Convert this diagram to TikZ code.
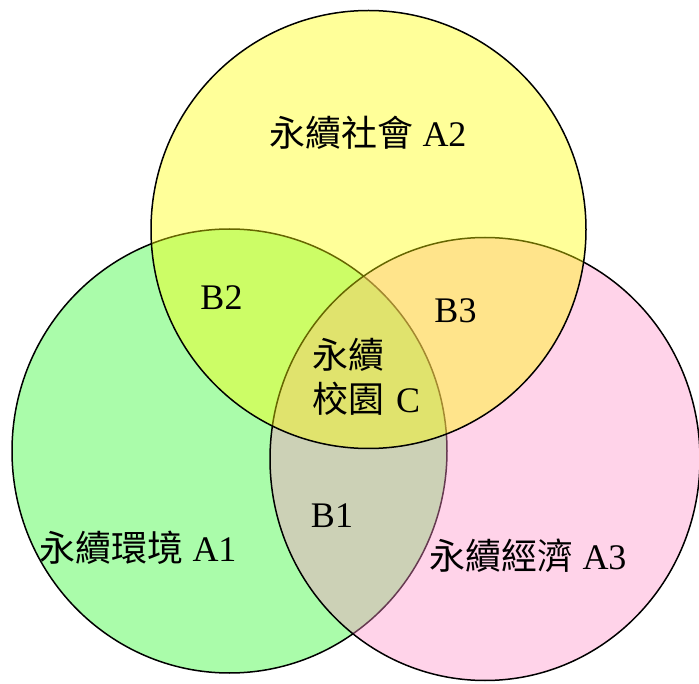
\documentclass[tikz,border=0pt]{standalone}
\usepackage{fontspec}
\setmainfont{Liberation Serif}
\newfontfamily\cjk{Noto Sans CJK TC}
\definecolor{gbase}{RGB}{0,246,0}
\definecolor{pbase}{RGB}{255,145,202}
\definecolor{ybase}{RGB}{255,255,0}
\tikzset{
  setring/.style={draw=black, line width=1.5pt, fill opacity=#1},
  lbl/.style={font=\fontsize{36}{44}\selectfont, inner sep=0pt, text=black},
}
\begin{document}
\begin{tikzpicture}[x=1pt,y=-1pt]
\useasboundingbox (0,0) rectangle (699,684);
\fill[white] (0,0) rectangle (699,684);
% green (environment)
\draw[setring=0.333, fill=gbase] (229.5,451) ellipse [x radius=217.5, y radius=222];
% pink (economy)
\draw[setring=0.4, fill=pbase] (485,459) ellipse [x radius=215, y radius=221.5];
% yellow (society)
\draw[setring=0.4, fill=ybase] (368.5,229.5) ellipse [x radius=217.5, y radius=219];
% labels
\node[lbl] (a2) at (368,133) {{\cjk 永續社會} A2};
\node[lbl] (b2) at (221.5,298) {B2};
\node[lbl] (b3) at (455.5,311) {B3};
\node[lbl, align=left, text width=110pt] (c) at (367,377) {{\cjk 永續}\\{\cjk 校園} C};
\node[lbl] (b1) at (332,516) {B1};
\node[lbl] (a1) at (138,548) {{\cjk 永續環境} A1};
\node[lbl] (a3) at (528,556) {{\cjk 永續經濟} A3};
\end{tikzpicture}
\end{document}
